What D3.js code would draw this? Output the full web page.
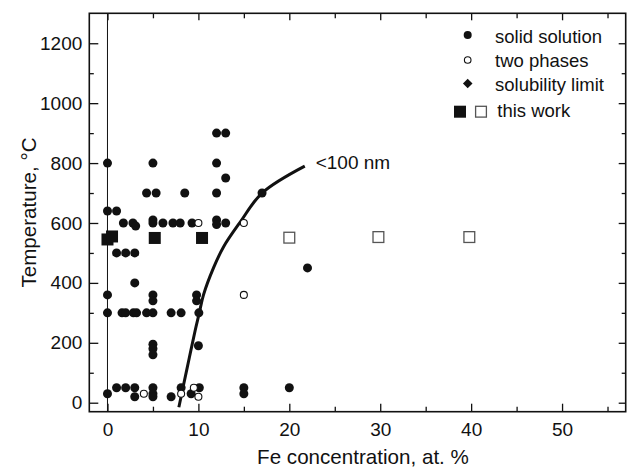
<!DOCTYPE html>
<html>
<head>
<meta charset="utf-8">
<script src="https://cdn.jsdelivr.net/npm/d3@7/dist/d3.min.js"></script>
<style>
  html, body { margin: 0; padding: 0; background: #fff; }
  svg { display: block; font-family: "Liberation Sans", Arial, Helvetica, sans-serif; }
</style>
</head>
<body>
<svg id="chart" width="627" height="467"></svg>
<script>
// ---- Data (Fe concentration at.%, Temperature °C) ----
const solidSolution = [
  [0, 800], [0, 640], [0, 360], [0, 300], [0, 30],
  [1, 640], [1, 500], [1, 50],
  [1.75, 600], [1.6, 300],
  [2, 500], [2, 300], [2, 50],
  [2.8, 600], [3.1, 590], [2.85, 300],
  [3, 500], [3, 400], [3, 50], [3, 20], [3.2, 300],
  [4.3, 700], [4.3, 300],
  [5, 800], [5, 610], [5, 600], [5, 360], [5, 340], [5, 300],
  [5, 195], [5, 180], [5, 160], [5, 50], [5, 30], [5, 20],
  [5.35, 700], [6.1, 600], [7.2, 600], [7, 300], [7, 20],
  [8, 600], [8.1, 300], [8.1, 50], [8.5, 700],
  [9.3, 600], [9.2, 30],
  [9.8, 360], [9.8, 340], [10.05, 300], [10, 190], [10.1, 50],
  [12, 900], [12, 800], [12, 700], [12, 610], [12, 595],
  [13, 900], [13, 750], [13, 600],
  [15, 50], [15, 30], [17, 700], [20, 50], [22, 450]
];
const twoPhases = [
  [4, 30], [8.1, 30], [9.5, 50], [10, 20], [10, 600], [15, 600], [15, 360]
];
const solubilityLimit = [];
const thisWorkSolid = [[0, 545], [0.5, 555], [5.2, 550], [10.4, 550]];
const thisWorkTwoPhase = [[20, 551], [29.8, 553], [39.8, 553]];
const curve100nm = [
  [7.85, -15], [8.3, 50], [9.0, 150], [9.65, 242], [10.1, 300], [10.56, 360],
  [11.66, 450], [12.76, 520], [14.6, 603], [17, 700], [21.7, 790]
];
const xTickLabels = [0, 10, 20, 30, 40, 50];
const yTickLabels = [0, 200, 400, 600, 800, 1000, 1200];
const legendLabels = ["solid solution", "two phases", "solubility limit", "this work"];
const curveLabel = "<100 nm";
const xTitle = "Fe concentration, at. %";
const yTitle = "Temperature, \u00B0C";

// ---- Layout ----
const L = 89.3, R = 625.7, T = 13.3, B = 411.7;
const svg = d3.select("#chart");
const x = d3.scaleLinear().domain([-2, 57]).range([L, R]);
const y = d3.scaleLinear().domain([-30, 1300]).range([B, T]);
const ink = "#111";

const xMinor = d3.range(5, 57, 10);
const yMinor = d3.range(100, 1300, 200);

function styleAxis(g) {
  g.select(".domain").remove();
  g.selectAll(".tick line").attr("stroke", ink).attr("stroke-width", 1.3);
  g.selectAll(".tick text").attr("fill", ink).style("font-size", "19px")
    .style("font-family", '"Liberation Sans", Arial, sans-serif');
}

// bottom axis
svg.append("g").attr("transform", `translate(0,${B})`)
  .call(d3.axisBottom(x).tickValues(xTickLabels).tickSize(-8).tickPadding(11).tickFormat(d3.format("d")))
  .call(styleAxis);
svg.append("g").attr("transform", `translate(0,${B})`)
  .call(d3.axisBottom(x).tickValues(xMinor).tickSize(-5).tickFormat(""))
  .call(styleAxis);
// top axis
svg.append("g").attr("transform", `translate(0,${T})`)
  .call(d3.axisTop(x).tickValues(xTickLabels).tickSize(-7).tickFormat(""))
  .call(styleAxis);
svg.append("g").attr("transform", `translate(0,${T})`)
  .call(d3.axisTop(x).tickValues(xMinor).tickSize(-5).tickFormat(""))
  .call(styleAxis);
// left axis
svg.append("g").attr("transform", `translate(${L},0)`)
  .call(d3.axisLeft(y).tickValues(yTickLabels).tickSize(-9).tickPadding(7).tickFormat(d3.format("d")))
  .call(styleAxis);
svg.append("g").attr("transform", `translate(${L},0)`)
  .call(d3.axisLeft(y).tickValues(yMinor).tickSize(-4.5).tickFormat(""))
  .call(styleAxis);
// right axis
svg.append("g").attr("transform", `translate(${R},0)`)
  .call(d3.axisRight(y).tickValues(yTickLabels).tickSize(-7).tickFormat(""))
  .call(styleAxis);
svg.append("g").attr("transform", `translate(${R},0)`)
  .call(d3.axisRight(y).tickValues(yMinor).tickSize(-4).tickFormat(""))
  .call(styleAxis);

// frame
svg.append("rect").attr("x", L).attr("y", T).attr("width", R - L).attr("height", B - T)
  .attr("fill", "none").attr("stroke", ink).attr("stroke-width", 1.6);

// vertical line at x = 0
svg.append("line").attr("x1", x(0)).attr("x2", x(0)).attr("y1", B).attr("y2", T)
  .attr("stroke", ink).attr("stroke-width", 1);

// axis titles
svg.append("text").attr("x", 363).attr("y", 463.5).attr("text-anchor", "middle")
  .style("font-size", "20.6px").attr("fill", ink).text(xTitle);
svg.append("text").attr("transform", `translate(36,${(T + B) / 2}) rotate(-90)`)
  .attr("text-anchor", "middle").style("font-size", "20.6px").attr("fill", ink).text(yTitle);

// curve
const lineGen = d3.line().x(d => x(d[0])).y(d => y(d[1])).curve(d3.curveCatmullRom.alpha(0.5));
svg.append("path").datum(curve100nm).attr("d", lineGen)
  .attr("fill", "none").attr("stroke", ink).attr("stroke-width", 3);
svg.append("text").attr("x", x(22.9)).attr("y", y(780)).style("font-size", "19px")
  .attr("fill", ink).text(curveLabel);

// points
const diamond = d3.symbol().type(d3.symbolSquare).size(50);
svg.append("g").selectAll("circle").data(solidSolution).join("circle")
  .attr("cx", d => x(d[0])).attr("cy", d => y(d[1])).attr("r", 4.5).attr("fill", ink);
svg.append("g").selectAll("circle").data(twoPhases).join("circle")
  .attr("cx", d => x(d[0])).attr("cy", d => y(d[1])).attr("r", 3.5)
  .attr("fill", "#fff").attr("stroke", ink).attr("stroke-width", 1.1);
svg.append("g").selectAll("path").data(solubilityLimit).join("path")
  .attr("transform", d => `translate(${x(d[0])},${y(d[1])}) rotate(45)`)
  .attr("d", diamond).attr("fill", ink);
const sq = 12;
svg.append("g").selectAll("rect").data(thisWorkSolid).join("rect")
  .attr("x", d => x(d[0]) - sq / 2).attr("y", d => y(d[1]) - sq / 2)
  .attr("width", sq).attr("height", sq).attr("fill", ink);
svg.append("g").selectAll("rect").data(thisWorkTwoPhase).join("rect")
  .attr("x", d => x(d[0]) - sq / 2 + 0.6).attr("y", d => y(d[1]) - sq / 2 + 0.6)
  .attr("width", sq - 1.2).attr("height", sq - 1.2)
  .attr("fill", "#fff").attr("stroke", "#555").attr("stroke-width", 1.3);

// legend
const lg = svg.append("g");
const legX = 467.7, textX = 495;
const rowsY = [42.7, 66.5, 90.5, 116.7];
lg.append("circle").attr("cx", legX).attr("cy", 35).attr("r", 4).attr("fill", ink);
lg.append("circle").attr("cx", legX).attr("cy", 60).attr("r", 3.3)
  .attr("fill", "#fff").attr("stroke", ink).attr("stroke-width", 1.1);
lg.append("path").attr("transform", `translate(${legX},83.5) rotate(45)`)
  .attr("d", d3.symbol().type(d3.symbolSquare).size(46)()).attr("fill", ink);
lg.append("rect").attr("x", 454).attr("y", 105.7).attr("width", 12).attr("height", 12).attr("fill", ink);
lg.append("rect").attr("x", 475.6).attr("y", 106.3).attr("width", 10.8).attr("height", 10.8)
  .attr("fill", "#fff").attr("stroke", "#555").attr("stroke-width", 1.3);
legendLabels.forEach((t, i) => {
  lg.append("text").attr("x", i === 3 ? 497.3 : textX).attr("y", rowsY[i])
    .style("font-size", "18.5px").attr("fill", ink).text(t);
});
</script>
</body>
</html>
